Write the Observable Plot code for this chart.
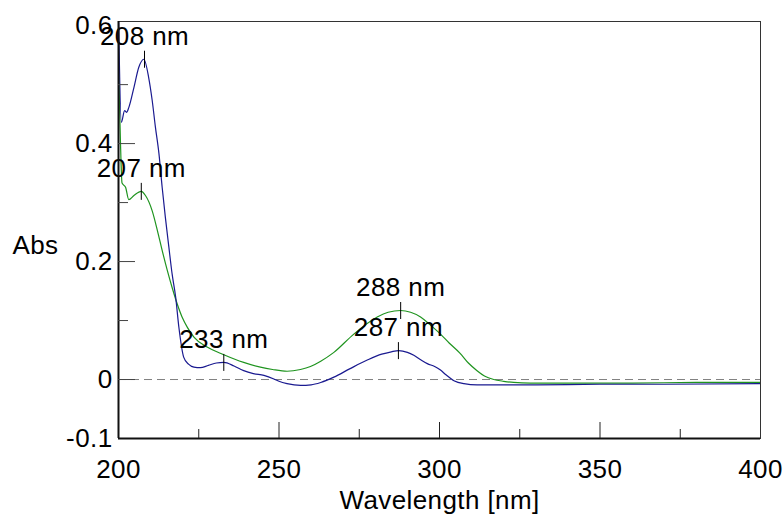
<!DOCTYPE html>
<html>
<head>
<meta charset="utf-8">
<script src="https://cdn.jsdelivr.net/npm/d3@7"></script>
<script src="https://cdn.jsdelivr.net/npm/@observablehq/plot@0.6"></script>
<style>
  html, body { margin: 0; padding: 0; background: #fff; }
  #chart svg { display: block; }
  #chart svg text { letter-spacing: 0.4px; }
</style>
</head>
<body>
<div id="chart"></div>
<script>
// ---- data ----
const blueWl = [200, 200.9, 201.9, 202.5, 203.2, 204.8, 206.3, 207.9, 209.4, 210.5, 211.5, 212.6, 213.6, 214.6, 215.7, 216.7, 217.8, 218.8, 220.3, 221.8, 223.5, 225.5, 228, 230.5, 232.8, 236, 239, 242, 245.3, 248.4, 250, 252.5, 256.7, 260, 263, 267.1, 272, 277.5, 282, 285, 287.3, 290, 292, 294, 296.2, 298.5, 300.3, 302, 304.5, 307.6, 311.7, 330, 350, 370, 400];
const blueAbs = [0.62, 0.436, 0.456, 0.453, 0.461, 0.495, 0.529, 0.543, 0.512, 0.473, 0.428, 0.383, 0.326, 0.275, 0.224, 0.179, 0.140, 0.089, 0.038, 0.026, 0.021, 0.020, 0.024, 0.028, 0.029, 0.023, 0.015, 0.010, 0.007, 0.001, -0.003, -0.007, -0.010, -0.009, -0.005, 0.004, 0.018, 0.033, 0.043, 0.047, 0.049, 0.046, 0.041, 0.034, 0.027, 0.022, 0.016, 0.008, -0.002, -0.007, -0.009, -0.009, -0.008, -0.008, -0.007];

const greenWl = [200, 200.3, 200.6, 201.1, 202.2, 203.2, 204.8, 207.1, 208.4, 210.5, 212.1, 213.6, 215.2, 216.7, 218.3, 219.8, 221.5, 223.5, 227.6, 232.8, 239, 244.2, 248, 252.5, 256.7, 259.8, 263, 267.1, 273.3, 280.6, 284, 287.9, 291, 294.1, 297, 300.3, 303, 306.5, 309, 311.7, 314, 316.9, 320, 323.1, 328.3, 340, 360, 380, 400];
const greenAbs = [0.565, 0.47, 0.405, 0.333, 0.326, 0.305, 0.312, 0.319, 0.312, 0.286, 0.253, 0.219, 0.185, 0.156, 0.128, 0.106, 0.088, 0.072, 0.055, 0.042, 0.029, 0.021, 0.017, 0.014, 0.017, 0.022, 0.031, 0.046, 0.077, 0.106, 0.114, 0.117, 0.114, 0.106, 0.093, 0.077, 0.062, 0.044, 0.028, 0.015, 0.006, 0.0, -0.003, -0.005, -0.006, -0.006, -0.006, -0.005, -0.005];

const peakLabels = ["208 nm", "207 nm", "233 nm", "288 nm", "287 nm"];
const peakWl = [208.1, 207.1, 232.8, 287.9, 287.2];
const peakAbs = [0.543, 0.319, 0.029, 0.117, 0.049];

const xLabelTicks = [200, 250, 300, 350, 400];
const xMajorTicks = [250, 300, 350];
const xMinorTicks = [225, 275, 325, 375];
const yLabelTicks = [-0.1, 0, 0.2, 0.4, 0.6];
const yMajorTicks = [0, 0.2, 0.4];
const yMinorTicks = [0.1, 0.3, 0.5];
const xDomain = [200, 400];
const yDomain = [-0.1, 0.607];

// ---- build tables ----
const blue = blueWl.map((w, i) => ({w, a: blueAbs[i]}));
const green = greenWl.map((w, i) => ({w, a: greenAbs[i]}));
const peaks = peakLabels.map((t, i) => ({t, w: peakWl[i], a: peakAbs[i]}));

const FONT = "'Liberation Sans', Arial, sans-serif";
const FS = 26;
const vbar = {draw(ctx) { ctx.moveTo(0, -8.5); ctx.lineTo(0, 8.5); }};

const chart = Plot.plot({
  width: 784,
  height: 518,
  marginLeft: 118,
  marginRight: 24,
  marginTop: 21,
  marginBottom: 80,
  style: {fontFamily: FONT, background: "#fff", color: "#000"},
  x: {domain: xDomain},
  y: {domain: yDomain},
  marks: [
    // zero reference line
    Plot.ruleY([0], {stroke: "#808080", strokeWidth: 1, strokeDasharray: "8,5"}),
    // spectra
    Plot.line(green, {x: "w", y: "a", stroke: "#1f941f", strokeWidth: 1.2, curve: "monotone-x", clip: true}),
    Plot.line(blue, {x: "w", y: "a", stroke: "#1a1a90", strokeWidth: 1.2, curve: "monotone-x", clip: true}),
    // peak markers and labels
    Plot.dot(peaks, {x: "w", y: "a", symbol: vbar, stroke: "#000", fill: "none", strokeWidth: 1}),
    Plot.text(peaks, {x: "w", y: "a", text: "t", dy: -23, fontSize: FS, fill: "#000"}),
    // frame
    Plot.frame({stroke: "#333", strokeWidth: 1}),
    Plot.ruleX([xDomain[0]], {stroke: "#111", strokeWidth: 2}),
    Plot.ruleY([yDomain[0]], {stroke: "#111", strokeWidth: 2}),
    // inward ticks
    Plot.axisX({ticks: xMajorTicks, tickSize: -16, tickFormat: () => "", label: null, stroke: "#222"}),
    Plot.axisX({ticks: xMinorTicks, tickSize: -9, tickFormat: () => "", label: null, stroke: "#222"}),
    Plot.axisY({ticks: yMajorTicks, tickSize: -17, tickFormat: () => "", label: null, stroke: "#444"}),
    Plot.axisY({ticks: yMinorTicks, tickSize: -10, tickFormat: () => "", label: null, stroke: "#444"}),
    // tick labels
    Plot.axisX({ticks: xLabelTicks, tickSize: 0, tickPadding: 21, tickFormat: d => String(d), fontSize: FS, label: null}),
    Plot.axisY({ticks: yLabelTicks, tickSize: 0, tickPadding: 6, tickFormat: d => String(d), fontSize: FS, label: null}),
    // axis titles
    Plot.text(["Wavelength [nm]"], {frameAnchor: "bottom", dy: 70, fontSize: FS, fill: "#000"}),
    Plot.text(["Abs"], {frameAnchor: "left", textAnchor: "middle", dx: -83, dy: 16, fontSize: FS, fill: "#000"})
  ]
});
document.getElementById("chart").appendChild(chart);
</script>
</body>
</html>
